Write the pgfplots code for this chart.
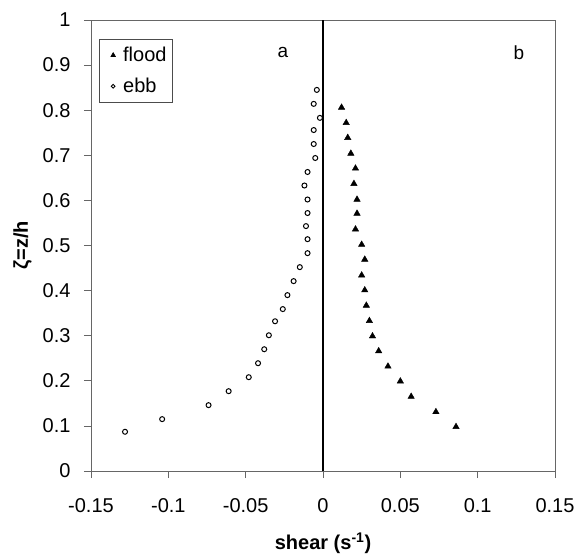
\documentclass[border=0pt]{standalone}
\usepackage{fontspec}
\setmainfont{Liberation Sans}
\usepackage{pgfplots}
\pgfplotsset{compat=1.18}
\usetikzlibrary{calc}
\begin{document}
\begin{tikzpicture}
\begin{axis}[
  scale only axis,
  width=464pt, height=451pt,
  xmin=-0.15, xmax=0.15, ymin=0, ymax=1,
  xtick={-0.15,-0.1,-0.05,0,0.05,0.1,0.15},
  xticklabels={-0.15,-0.1,-0.05,0,0.05,0.1,0.15},
  ytick={0,0.1,0.2,0.3,0.4,0.5,0.6,0.7,0.8,0.9,1},
  yticklabels={0,0.1,0.2,0.3,0.4,0.5,0.6,0.7,0.8,0.9,1},
  tick align=outside,
  tick pos=left,
  major tick length=7pt,
  axis line style={black!60, line width=0.8pt},
  every tick/.style={black!60, line width=0.8pt},
  tick label style={font=\fontsize{20}{24}\selectfont},
  xticklabel style={yshift=-17pt},
  yticklabel style={xshift=-10pt},
  xlabel={\bfseries shear (s\textsuperscript{-1})},
  ylabel={\bfseries ζ=z/h},
  label style={font=\fontsize{20}{24}\selectfont},
  xlabel style={yshift=-13pt},
  ylabel style={yshift=4pt},
  legend style={at={(0.017,0.958)}, anchor=north west, draw=black!70, line width=0.6pt,
     font=\fontsize{20}{24}\selectfont, inner xsep=4pt, inner ysep=6pt, row sep=11pt},
  legend cell align=left,
  clip=false,
]
\addplot[only marks, mark=triangle*, mark size=3.7pt, black,
  legend image code/.code={\path[draw=none] (0pt,0pt) -- (18pt,0pt);\draw[black, mark=triangle*, mark size=2.6pt] plot[only marks] coordinates {(10pt,0pt)};}] coordinates {
(0.012,0.806)(0.015,0.772)(0.016,0.739)(0.018,0.704)(0.021,0.671)(0.020,0.637)
(0.022,0.602)(0.022,0.571)(0.021,0.536)(0.025,0.502)(0.027,0.469)(0.025,0.434)
(0.027,0.401)(0.028,0.367)(0.030,0.333)(0.032,0.299)(0.036,0.266)(0.042,0.232)
(0.050,0.199)(0.057,0.165)(0.073,0.131)(0.086,0.098)
};
\addlegendentry{flood}
\addplot[only marks, mark=o, mark size=2.5pt, line width=1pt, black,
  legend image code/.code={\path[draw=none] (0pt,0pt) -- (18pt,0pt);\draw[black, mark=o, mark size=1.9pt, line width=0.9pt] plot[only marks] coordinates {(10pt,0pt)};}] coordinates {
(-0.128,0.087)(-0.104,0.115)(-0.074,0.146)(-0.061,0.177)(-0.048,0.208)(-0.042,0.239)
(-0.038,0.270)(-0.035,0.301)(-0.031,0.332)(-0.026,0.359)(-0.023,0.390)(-0.019,0.421)
(-0.015,0.452)(-0.010,0.483)(-0.010,0.514)(-0.011,0.543)(-0.010,0.572)(-0.010,0.602)
(-0.012,0.633)(-0.010,0.663)(-0.005,0.694)(-0.006,0.725)(-0.006,0.756)(-0.002,0.783)
(-0.006,0.814)(-0.004,0.845)
};
\addlegendentry{ebb}
\addplot[black, line width=1.3pt, forget plot] coordinates {(0,0)(0,1)};
\node[font=\fontsize{19}{22}\selectfont] at (axis cs:-0.026,0.927) {a};
\node[font=\fontsize{19}{22}\selectfont] at (axis cs:0.1267,0.927) {b};
\end{axis}
\pgfresetboundingbox
\path ($(current axis.south west)+(-91pt,-83pt)$) rectangle ($(current axis.north east)+(25pt,20pt)$);
\end{tikzpicture}
\end{document}
